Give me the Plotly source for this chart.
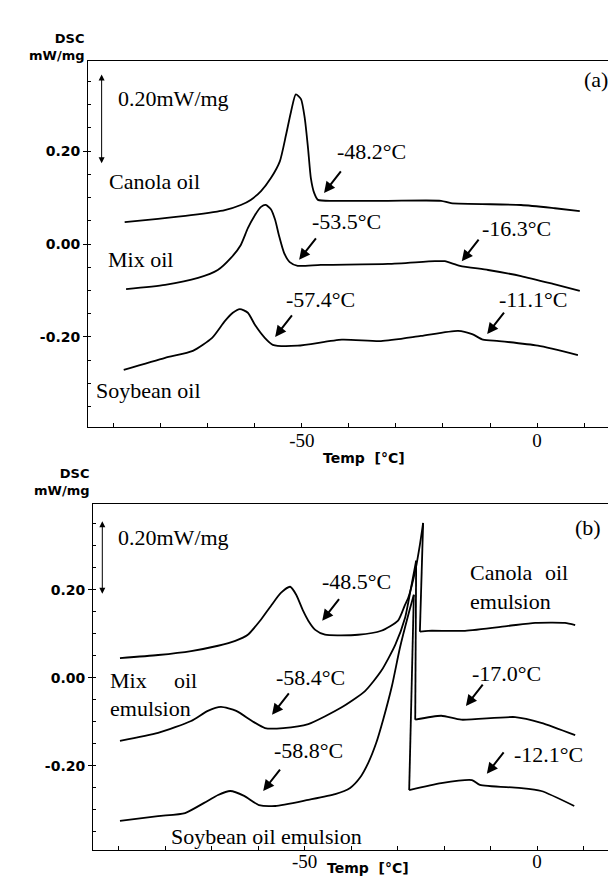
import plotly.graph_objects as go

# ---------------- data ----------------
# Panel (a): bulk oils
canola_a_T = [-87.7, -80.6, -73.6, -66.4, -63.0, -60.9, -58.7, -56.6, -54.7, -53.4, -52.3, -51.3,
              -50.2, -49.4, -48.7, -48.1, -47.4, -46.6, -42.3, -31.7, -20.4, -18.3, -3.4, 3.8, 9.1]
canola_a_y = [0.047, 0.054, 0.062, 0.073, 0.084, 0.095, 0.114, 0.142, 0.178, 0.234, 0.286, 0.322,
              0.312, 0.271, 0.206, 0.142, 0.110, 0.095, 0.093, 0.093, 0.093, 0.088, 0.084, 0.077, 0.071]

mix_a_T = [-87.4, -79.1, -72.1, -67.9, -65.1, -63.0, -61.5, -60.0, -58.7, -57.7, -56.6, -55.7,
           -54.9, -53.8, -52.6, -50.9, -46.0, -31.7, -21.7, -19.6, -16.4, -10.4, -3.4, 3.4, 9.1]
mix_a_y = [-0.097, -0.088, -0.073, -0.056, -0.030, -0.002, 0.034, 0.062, 0.080, 0.084, 0.075, 0.052,
           0.019, -0.019, -0.039, -0.047, -0.045, -0.043, -0.037, -0.037, -0.047, -0.056, -0.069, -0.086, -0.101]

soy_a_T = [-87.9, -79.1, -73.2, -69.1, -66.4, -64.7, -63.2, -61.5, -60.0, -57.9, -56.2, -50.9,
           -41.5, -33.2, -24.7, -16.8, -13.8, -11.5, -8.1, 0.2, 8.7]
soy_a_y = [-0.271, -0.245, -0.230, -0.202, -0.166, -0.148, -0.140, -0.148, -0.174, -0.202, -0.217, -0.219,
           -0.206, -0.209, -0.198, -0.187, -0.194, -0.206, -0.209, -0.219, -0.239]

# Panel (b): emulsions
canola_b_T = [-89.7, -81.5, -74.4, -68.6, -64.9, -62.2, -59.4, -57.2, -55.1, -53.1, -51.8, -50.3,
              -49.2, -47.7, -45.6, -38.5, -33.5, -29.9, -28.4, -27.7, -26.2, -25.2, -24.5, -25.2,
              -23.4, -15.5, -6.2, -0.4, 6.0, 8.2]
canola_b_y = [0.045, 0.052, 0.061, 0.073, 0.084, 0.098, 0.132, 0.164, 0.193, 0.207, 0.189, 0.152,
              0.130, 0.109, 0.098, 0.098, 0.107, 0.130, 0.166, 0.182, 0.243, 0.302, 0.352, 0.105,
              0.107, 0.107, 0.118, 0.125, 0.125, 0.120]

mix_b_T = [-89.7, -81.5, -74.4, -70.8, -68.0, -64.7, -61.3, -58.5, -54.6, -49.2, -42.2, -37.0,
           -33.5, -30.5, -28.4, -27.1, -26.0, -26.2, -20.6, -16.3, -4.7, 0.9, 8.2]
mix_b_y = [-0.143, -0.125, -0.098, -0.075, -0.066, -0.075, -0.098, -0.114, -0.114, -0.105, -0.068, -0.030,
           0.016, 0.075, 0.136, 0.205, 0.266, -0.095, -0.086, -0.095, -0.089, -0.102, -0.130]

soy_b_T = [-89.7, -81.5, -75.7, -71.6, -68.6, -66.0, -63.0, -59.8, -56.3, -49.2, -43.4, -40.2,
           -38.1, -36.3, -34.6, -33.1, -31.2, -29.5, -27.7, -26.5, -27.5, -20.6, -14.0, -12.3,
           -3.9, 0.9, 8.0]
soy_b_y = [-0.325, -0.314, -0.307, -0.284, -0.266, -0.257, -0.268, -0.289, -0.291, -0.277, -0.264, -0.250,
           -0.227, -0.193, -0.148, -0.095, -0.018, 0.068, 0.143, 0.189, -0.255, -0.239, -0.232, -0.243,
           -0.250, -0.257, -0.291]

# tick labels
x_tickvals = [-50, 0]
x_ticktext = ["-50", "0"]
y_tickvals = [-0.2, 0.0, 0.2]
y_ticktext = ["-0.20", "0.00", "0.20"]

# onset temperature annotations: (text, arrow tip T, arrow tip y, text T, text y)
onsets_a = [("-48.2°C", -45.3, 0.110, -35.1, 0.200),
            ("-53.5°C", -50.6, -0.034, -40.6, 0.049),
            ("-16.3°C", -16.0, -0.037, -4.3, 0.034),
            ("-57.4°C", -55.7, -0.200, -46.0, -0.120),
            ("-11.1°C", -10.6, -0.194, -0.9, -0.120)]
onsets_b = [("-48.5°C", -46.2, 0.130, -38.9, 0.220),
            ("-58.4°C", -57.0, -0.084, -48.8, 0.000),
            ("-17.0°C", -15.3, -0.064, -6.5, 0.011),
            ("-58.8°C", -58.9, -0.257, -49.2, -0.166),
            ("-12.1°C", -10.8, -0.218, 2.4, -0.175)]

# sample labels: (text, T, y, anchor)
labels_a = [("Canola oil", -91.5, 0.135, "left"),
            ("Mix oil", -91.7, -0.034, "left"),
            ("Soybean oil", -94.3, -0.316, "left")]
labels_b = [("Canola", -14.8, 0.239, "left"), ("oil", 7.1, 0.239, "right"),
            ("emulsion", -14.8, 0.173, "left"),
            ("Mix", -92.3, -0.005, "left"), ("oil", -72.7, -0.005, "right"),
            ("emulsion", -92.3, -0.070, "left"),
            ("Soybean oil emulsion", -79.1, -0.361, "left")]

SERIF = "Liberation Serif"
SANS = "DejaVu Sans"
W, H = 616, 879

fig = go.Figure()

def add_curve(T, Y, xa, ya):
    # split the trace where temperature runs backwards (freezing spike) so the
    # smooth parts are splined and the vertical release is drawn straight
    cut = next((i for i in range(1, len(T)) if T[i] < T[i - 1]), None)
    pieces = [(T, Y, "spline")] if cut is None else [
        (T[:cut], Y[:cut], "spline"), (T[cut - 1:cut + 1], Y[cut - 1:cut + 1], "linear"),
        (T[cut:], Y[cut:], "spline")]
    for tt, yy, shp in pieces:
        fig.add_trace(go.Scatter(x=tt, y=yy, mode="lines", xaxis=xa, yaxis=ya, showlegend=False,
                                 hoverinfo="skip",
                                 line=dict(color="black", width=1.8, shape=shp, smoothing=0.6)))

for T, Y in [(canola_a_T, canola_a_y), (mix_a_T, mix_a_y), (soy_a_T, soy_a_y)]:
    add_curve(T, Y, "x", "y")
for T, Y in [(canola_b_T, canola_b_y), (mix_b_T, mix_b_y), (soy_b_T, soy_b_y)]:
    add_curve(T, Y, "x2", "y2")

def xax(domain, rng, anchor, standoff):
    return dict(domain=domain, range=rng, anchor=anchor, showline=True, linecolor="black",
                linewidth=1, mirror=True, showgrid=False, zeroline=False,
                tickmode="array", tickvals=x_tickvals, ticktext=x_ticktext,
                ticks="inside", ticklen=4, tickcolor="black", ticklabelstandoff=standoff,
                tickfont=dict(family=SERIF, size=19, color="black"),
                minor=dict(tickmode="linear", tick0=0, dtick=10, ticks="inside",
                           ticklen=4, tickcolor="black", showgrid=False))

def yax(domain, rng, anchor):
    return dict(domain=domain, range=rng, anchor=anchor, showline=True, linecolor="black",
                linewidth=1, mirror=False, showgrid=False, zeroline=False,
                tickmode="array", tickvals=y_tickvals, ticktext=y_ticktext,
                ticks="outside", ticklen=4, tickcolor="black",
                tickfont=dict(family=SANS, size=14, color="black", weight="bold"),
                minor=dict(tickmode="linear", tick0=0, dtick=0.05, ticks="inside",
                           ticklen=3, tickcolor="black", showgrid=False))

fig.update_layout(
    width=W, height=H, margin=dict(l=0, r=0, t=0, b=0),
    paper_bgcolor="white", plot_bgcolor="white",
    xaxis=xax([80 / W, 1], [-95.5, 18.5], "y", -4),
    yaxis=yax([1 - 419 / H, 1 - 53 / H], [-0.394, 0.394], "x"),
    xaxis2=xax([85 / W, 1], [-95.5, 18.7], "y2", -6),
    yaxis2=yax([1 - 842 / H, 1 - 496 / H], [-0.391, 0.395], "x2"),
)

ann = []

def paper_text(text, px, py, size, family, xanchor="center", bold=False):
    ann.append(dict(text=text, x=px / W, y=1 - py / H, xref="paper", yref="paper",
                    xanchor=xanchor, yanchor="middle", showarrow=False, align="right",
                    font=dict(family=family, size=size, color="black",
                              weight="bold" if bold else "normal")))

# axis captions
paper_text("DSC<br>mW/mg", 79, 39, 13, SANS, "right", True)
paper_text("DSC<br>mW/mg", 84, 474, 13, SANS, "right", True)
paper_text("Temp\u00a0\u00a0[°C]", 356, 450, 14, SANS, "center", True)
paper_text("Temp\u00a0\u00a0[°C]", 360, 860, 14, SANS, "center", True)

for xr, yr, onsets, labels in [("x", "y", onsets_a, labels_a), ("x2", "y2", onsets_b, labels_b)]:
    for text, tx, ty, lx, ly in onsets:
        ann.append(dict(text="", x=tx, y=ty, xref=xr, yref=yr, showarrow=True,
                        ax=18, ay=-23, arrowhead=2, arrowsize=1.1, arrowwidth=2,
                        arrowcolor="black", standoff=0))
        ann.append(dict(text=text, x=lx, y=ly, xref=xr, yref=yr, showarrow=False,
                        xanchor="center", yanchor="middle",
                        font=dict(family=SERIF, size=22, color="black")))
    for text, lx, ly, anc in labels:
        ann.append(dict(text=text, x=lx, y=ly, xref=xr, yref=yr, showarrow=False,
                        xanchor=anc, yanchor="middle",
                        font=dict(family=SERIF, size=22, color="black")))

# scale bars (0.20 mW/mg) and panel letters
for xr, yr, bx, y0, y1, tx, ty, letter, lx, ly in [
        ("x", "y", -92.6, 0.174, 0.368, -89.6, 0.314, "(a)", 15.5, 0.355),
        ("x2", "y2", -93.5, 0.191, 0.359, -90.5, 0.318, "(b)", 14.2, 0.341)]:
    ann.append(dict(text="", x=bx, y=y0, ax=bx, ay=y1, xref=xr, yref=yr, axref=xr, ayref=yr,
                    showarrow=True, arrowhead=2, startarrowhead=2, arrowside="end+start",
                    arrowsize=1.2, startarrowsize=1.2, arrowwidth=1, arrowcolor="black",
                    standoff=0, startstandoff=0))
    ann.append(dict(text="0.20mW/mg", x=tx, y=ty, xref=xr, yref=yr, showarrow=False,
                    xanchor="left", yanchor="middle",
                    font=dict(family=SERIF, size=22, color="black")))
    ann.append(dict(text=letter, x=lx, y=ly, xref=xr, yref=yr, showarrow=False,
                    xanchor="right", yanchor="middle",
                    font=dict(family=SERIF, size=22, color="black")))

fig.update_layout(annotations=ann)
fig.write_html("out.html")
